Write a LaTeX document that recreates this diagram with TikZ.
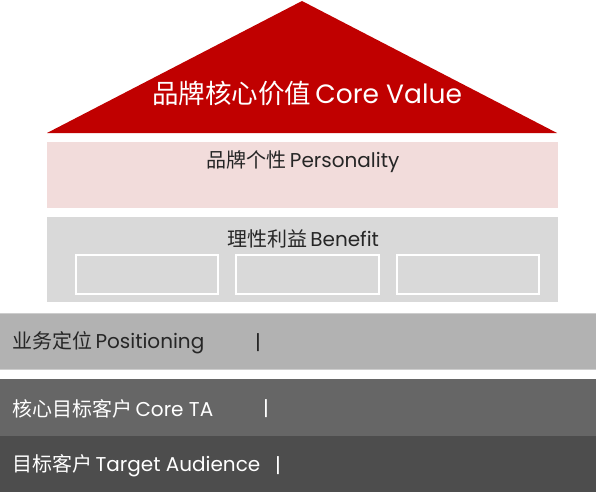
\documentclass[tikz,border=0pt]{standalone}
\usepackage{fontspec}
\setmainfont{Poppins}
\newfontfamily\cjk{Noto Sans CJK SC}
\begin{document}
\begin{tikzpicture}[x=1pt,y=-1pt,
  lbl/.style={inner sep=0pt,font=\fontsize{20}{24}\selectfont},
  small/.style={draw=white,line width=1.2pt,fill=none}]
\useasboundingbox (0,0) rectangle (596,492);
\fill[white] (0,0) rectangle (596,492);
% roof
\fill[fill={rgb,255:red,192;green,0;blue,0}] (47,133) -- (302,1) -- (557,133) -- cycle;
\node[lbl,text=white,font=\fontsize{26.5}{30}\selectfont] (cv) at (307,93) {{\cjk 品牌核心价值}\,Core Value};
% personality
\fill[fill={rgb,255:red,242;green,220;blue,219}] (47,142) rectangle (558,208);
\node[lbl,text={rgb,255:red,38;green,38;blue,38}] (pers) at (303,161.5) {{\cjk 品牌个性}\,Personality};
% benefit
\fill[fill={rgb,255:red,217;green,217;blue,217}] (47,217) rectangle (558,302);
\node[lbl,text={rgb,255:red,38;green,38;blue,38}] (ben) at (303,238.5) {{\cjk 理性利益}\,Benefit};
\draw[small] (76,255) rectangle (218,294);
\draw[small] (236,255) rectangle (379,294);
\draw[small] (397,255) rectangle (539,294);
% bands
\fill[fill={rgb,255:red,178;green,178;blue,178}] (0,313) rectangle (596,369);
\draw[line width=0.8pt,draw={rgb,255:red,205;green,205;blue,205}] (0,313) -- (596,313);
\draw[line width=0.8pt,draw={rgb,255:red,205;green,205;blue,205}] (0,369) -- (596,369);
\node[lbl,anchor=west,text={rgb,255:red,38;green,38;blue,38}] (pos) at (12,343) {{\cjk 业务定位}\,Positioning};
\node[lbl,text={rgb,255:red,38;green,38;blue,38}] (posbar) at (258,343) {|};
\fill[fill={rgb,255:red,102;green,102;blue,102}] (0,379) rectangle (596,436);
\node[lbl,anchor=west,text=white] (cta) at (12,409) {{\cjk 核心目标客户}\,Core TA};
\node[lbl,text=white] (ctabar) at (266,409) {|};
\fill[fill={rgb,255:red,77;green,77;blue,77}] (0,436) rectangle (596,492);
\node[lbl,anchor=west,text=white] (ta) at (12,466) {{\cjk 目标客户}\,Target Audience};
\node[lbl,text=white] (tabar) at (278,466) {|};
\end{tikzpicture}
\end{document}
